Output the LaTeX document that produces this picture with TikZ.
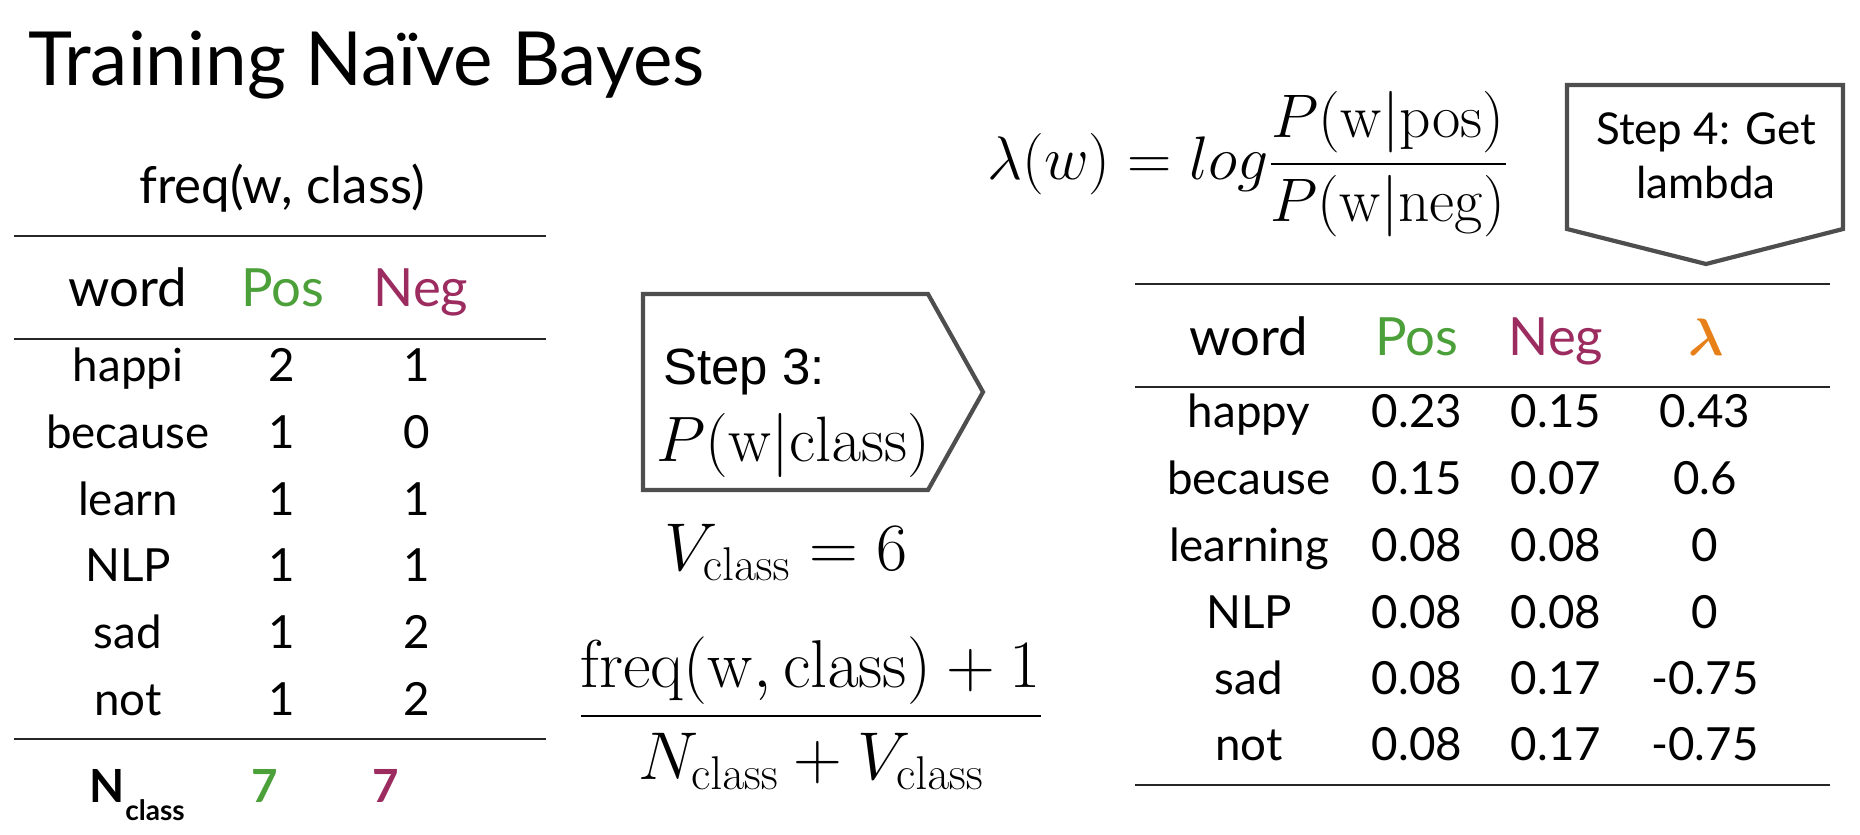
\RequirePackage{fix-cm}
\documentclass[tikz,border=0pt]{standalone}
\usepackage{amsmath}
\usepackage[no-math]{fontspec}
\setmainfont{Lato}
\newfontfamily\arialfont{Liberation Sans}
\usepackage{tikz}
\usetikzlibrary{positioning}
\definecolor{posgreen}{RGB}{76,160,58}
\definecolor{negpurple}{RGB}{156,44,96}
\definecolor{lamorange}{RGB}{232,128,26}
\definecolor{boxgray}{RGB}{78,78,78}
\tikzset{
    title/.style={font=\fontsize{42.5}{50}\selectfont, inner sep=0pt, anchor=base west},
    hdr/.style={font=\fontsize{30}{36}\selectfont, inner sep=0pt, anchor=base},
    cell/.style={font=\fontsize{26}{31}\selectfont, inner sep=0pt, anchor=base},
    total/.style={font=\fontsize{26}{31}\selectfont\bfseries, inner sep=0pt, anchor=base},
    steptxt/.style={font=\fontsize{25}{30}\selectfont, inner sep=0pt, anchor=base},
    mathbig/.style={font=\fontsize{38.5}{46}\selectfont, inner sep=0pt},
    rule/.style={line width=1.2pt, draw=black!85},
    stepbox/.style={line width=2.4pt, draw=boxgray, line join=miter},
}
\begin{document}
\begin{tikzpicture}[x=0.02cm, y=-0.02cm]
    \useasboundingbox (0,0) rectangle (1860,835);
    \node [title] (title) at (28,85) {Training Naïve Bayes};
    % frequency table
    \node [hdr, font=\fontsize{29}{35}\selectfont] (freq) at (282,203) {freq(w, class)};
    \draw [rule] (14,236) -- (546,236);
    \node [hdr] (fword) at (128,306) {word};
    \node [hdr, text=posgreen] (fpos) at (283,306) {Pos};
    \node [hdr, text=negpurple] (fneg) at (421,306) {Neg};
    \draw [rule] (14,339) -- (546,339);
    \node [cell] (fw1) at (128,381) {happi};
    \node [cell] (fp1) at (282,381) {2};
    \node [cell] (fn1) at (417,381) {1};
    \node [cell] (fw2) at (128,448) {because};
    \node [cell] (fp2) at (282,448) {1};
    \node [cell] (fn2) at (417,448) {0};
    \node [cell] (fw3) at (128,515) {learn};
    \node [cell] (fp3) at (282,515) {1};
    \node [cell] (fn3) at (417,515) {1};
    \node [cell] (fw4) at (128,581) {NLP};
    \node [cell] (fp4) at (282,581) {1};
    \node [cell] (fn4) at (417,581) {1};
    \node [cell] (fw5) at (128,648) {sad};
    \node [cell] (fp5) at (282,648) {1};
    \node [cell] (fn5) at (417,648) {2};
    \node [cell] (fw6) at (128,715) {not};
    \node [cell] (fp6) at (282,715) {1};
    \node [cell] (fn6) at (417,715) {2};
    \draw [rule] (14,739) -- (546,739);
    \node [total, anchor=base west] (ncap) at (89,802) {N};
    \node [total, anchor=base west, font=\fontsize{16}{19}\selectfont\bfseries] (nsub) at ([yshift=-0.36cm]ncap.base east) {class};
    \node [total, text=posgreen] (npos) at (265,802) {7};
    \node [total, text=negpurple] (nneg) at (386,802) {7};
    % step 3
    \draw [stepbox] (643,294) -- (928,294) -- (983,392) -- (928,490) -- (643,490) -- cycle;
    \node [steptxt, anchor=base west, font=\fontsize{29}{34}\arialfont] (step3) at (663,384) {Step 3:};
    \node [mathbig, anchor=base west, font=\fontsize{36.5}{44}\selectfont] (pwc) at (656,461) {$P(\mathrm{w}|\mathrm{class})$};
    \node [mathbig, anchor=base west] (vclass) at (664,570) {$V_{\mathrm{class}} = 6$};
    \node [mathbig, anchor=base] (smooth) at (811,733) {$\displaystyle\frac{\mathrm{freq}(\mathrm{w}, \mathrm{class}) + 1}{N_{\mathrm{class}} + V_{\mathrm{class}}}$};
    % step 4
    \node [mathbig, anchor=base west, font=\fontsize{35}{42}\selectfont] (lamdef) at (987,179) {$\displaystyle\lambda(w) = log\frac{P(\mathrm{w}|\mathrm{pos})}{P(\mathrm{w}|\mathrm{neg})}$};
    \draw [stepbox] (1567,85) -- (1843,85) -- (1843,229) -- (1706,264) -- (1567,229) -- cycle;
    \node [steptxt] (step4a) at (1706,144) {Step 4: Get};
    \node [steptxt] (step4b) at (1706,198) {lambda};
    % lambda table
    \draw [rule] (1135,284) -- (1830,284);
    \node [hdr] (lword) at (1249,355) {word};
    \node [hdr, text=posgreen] (lpos) at (1417,355) {Pos};
    \node [hdr, text=negpurple] (lneg) at (1556,355) {Neg};
    \node [hdr, text=lamorange, font=\fontsize{30}{36}\selectfont\boldmath] (llam) at (1706,355) {$\lambda$};
    \draw [rule] (1135,387) -- (1830,387);
    \node [cell] (lw1) at (1249,427) {happy};
    \node [cell] (lp1) at (1417,427) {0.23};
    \node [cell] (ln1) at (1556,427) {0.15};
    \node [cell] (ll1) at (1705,427) {0.43};
    \node [cell] (lw2) at (1249,494) {because};
    \node [cell] (lp2) at (1417,494) {0.15};
    \node [cell] (ln2) at (1556,494) {0.07};
    \node [cell] (ll2) at (1705,494) {0.6};
    \node [cell] (lw3) at (1249,561) {learning};
    \node [cell] (lp3) at (1417,561) {0.08};
    \node [cell] (ln3) at (1556,561) {0.08};
    \node [cell] (ll3) at (1705,561) {0};
    \node [cell] (lw4) at (1249,628) {NLP};
    \node [cell] (lp4) at (1417,628) {0.08};
    \node [cell] (ln4) at (1556,628) {0.08};
    \node [cell] (ll4) at (1705,628) {0};
    \node [cell] (lw5) at (1249,694) {sad};
    \node [cell] (lp5) at (1417,694) {0.08};
    \node [cell] (ln5) at (1556,694) {0.17};
    \node [cell] (ll5) at (1705,694) {-0.75};
    \node [cell] (lw6) at (1249,760) {not};
    \node [cell] (lp6) at (1417,760) {0.08};
    \node [cell] (ln6) at (1556,760) {0.17};
    \node [cell] (ll6) at (1705,760) {-0.75};
    \draw [rule] (1135,785) -- (1830,785);
\end{tikzpicture}
\end{document}
